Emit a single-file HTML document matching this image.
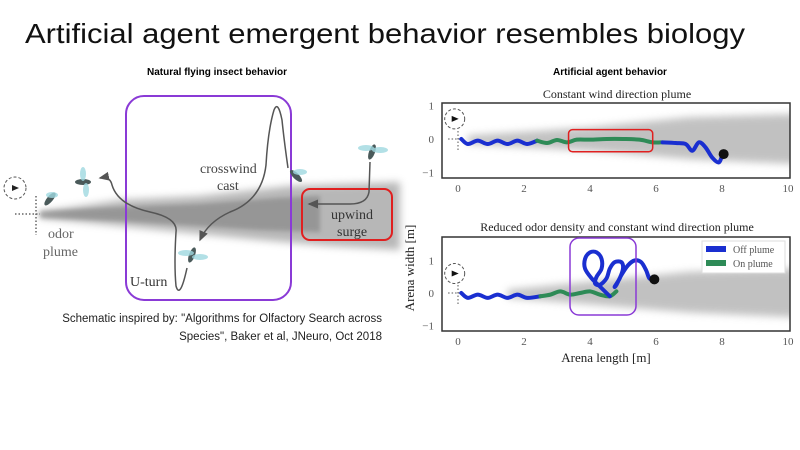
<!DOCTYPE html>
<html><head><meta charset="utf-8"><style>
html,body{margin:0;padding:0;background:#fff;width:800px;height:450px;overflow:hidden}
svg{display:block}
.ser{font-family:"Liberation Serif",serif}
.san{font-family:"Liberation Sans",sans-serif}
</style></head><body>
<svg id="root" width="800" height="450" viewBox="0 0 800 450">
<defs>
<filter id="blur" filterUnits="userSpaceOnUse" x="0" y="0" width="800" height="450"><feGaussianBlur stdDeviation="4"/></filter>
<filter id="blur2" filterUnits="userSpaceOnUse" x="0" y="0" width="800" height="450"><feGaussianBlur stdDeviation="2"/></filter>
<clipPath id="clipTop"><rect x="442" y="103" width="348" height="75"/></clipPath>
<clipPath id="clipBot"><rect x="442" y="237" width="348" height="94"/></clipPath>
<marker id="arr" markerWidth="8" markerHeight="8" refX="6" refY="4" orient="auto"><path d="M0,1 L7,4 L0,7 Z" fill="#555"/></marker>
</defs>
<text class="san" x="25" y="43" font-size="28" textLength="720" lengthAdjust="spacingAndGlyphs" fill="#111">Artificial agent emergent behavior resembles biology</text>

<g>
<text class="san" x="217" y="75" font-size="10" font-weight="bold" text-anchor="middle">Natural flying insect behavior</text>
<path d="M40,212 L120,200 L200,196 L290,186 L400,182 L400,250 L330,246 L260,240 L200,234 L120,226 L40,218 Z" fill="#888" opacity="0.6" filter="url(#blur)"/>
<path d="M40,211 L120,207 L200,204 L280,198 L320,196 L320,232 L260,230 L200,226 L120,221 L40,218 Z" fill="#777" opacity="0.5" filter="url(#blur2)"/>
<rect x="126" y="96" width="165" height="204" rx="18" fill="none" stroke="#8a3ad6" stroke-width="2"/>
<rect x="302" y="189" width="90" height="51" rx="8" fill="none" stroke="#e02020" stroke-width="2"/>
<path d="M370,162 L369,192 Q367,204 350,204 L309,204" fill="none" stroke="#555" stroke-width="1.5" marker-end="url(#arr)"/>
<path d="M288,168 Q284,140 282,120 Q278,100 274,110 Q268,130 266,165 Q262,200 230,212 Q208,222 200,240" fill="none" stroke="#555" stroke-width="1.5" marker-end="url(#arr)"/>
<path d="M187,268 Q180,300 176,286 Q174,265 176,232 Q178,218 150,212 Q118,205 112,185 Q110,176 100,178" fill="none" stroke="#555" stroke-width="1.5" marker-end="url(#arr)"/>
<g fill="#4a5a5a">
<ellipse cx="372" cy="152" rx="3" ry="8" transform="rotate(20 372 152)"/><ellipse cx="366" cy="148" rx="8" ry="3" fill="#9fd8e0" opacity="0.8"/><ellipse cx="380" cy="150" rx="8" ry="3" fill="#9fd8e0" opacity="0.8"/>
<ellipse cx="296" cy="176" rx="3" ry="8" transform="rotate(-45 296 176)"/><ellipse cx="300" cy="172" rx="7" ry="3" fill="#9fd8e0" opacity="0.8"/>
<ellipse cx="192" cy="255" rx="3" ry="8" transform="rotate(20 192 255)"/><ellipse cx="186" cy="253" rx="8" ry="3" fill="#9fd8e0" opacity="0.8"/><ellipse cx="200" cy="257" rx="8" ry="3" fill="#9fd8e0" opacity="0.8"/>
<ellipse cx="83" cy="182" rx="8" ry="3"/><ellipse cx="83" cy="174" rx="3" ry="7" fill="#9fd8e0" opacity="0.8"/><ellipse cx="86" cy="190" rx="3" ry="7" fill="#9fd8e0" opacity="0.8"/>
<ellipse cx="50" cy="199" rx="3" ry="8" transform="rotate(40 50 199)"/><ellipse cx="52" cy="195" rx="6" ry="3" fill="#9fd8e0" opacity="0.8"/>
</g>
<circle cx="15" cy="188" r="11" fill="none" stroke="#555" stroke-dasharray="3,2"/>
<path d="M12,185 L19,188 L12,191 Z" fill="#222"/>
<line x1="36" y1="196" x2="36" y2="235" stroke="#666" stroke-dasharray="1.5,2" stroke-width="1.5"/>
<line x1="15" y1="214" x2="40" y2="214" stroke="#666" stroke-dasharray="1.5,2" stroke-width="1.5"/>
<text class="ser" font-size="14" fill="#444"><tspan x="200" y="173">crosswind</tspan><tspan x="217" y="190">cast</tspan></text>
<text class="ser" font-size="14" fill="#333"><tspan x="331" y="219">upwind</tspan><tspan x="337" y="236">surge</tspan></text>
<text class="ser" font-size="14" fill="#666"><tspan x="48" y="238">odor</tspan><tspan x="43" y="256">plume</tspan></text>
<text class="ser" font-size="14" fill="#333" x="130" y="286">U-turn</text>
<text class="san" font-size="11.5" fill="#222" text-anchor="end"><tspan x="382" y="322">Schematic inspired by: "Algorithms for Olfactory Search across</tspan><tspan x="382" y="340">Species", Baker et al, JNeuro, Oct 2018</tspan></text>
</g>

<text class="san" x="610" y="75" font-size="10" font-weight="bold" text-anchor="middle">Artificial agent behavior</text>
<g id="charts"></g>
</svg>
<script>
// x-axis ticks, y-axis ticks
const xTicks=[0,2,4,6,8,10];
const yTicks=[-1,0,1];
// top panel trajectory (off/on plume segments)
const topOff1=[[0.1,0],[0.3,-0.15],[0.6,-0.05],[0.9,-0.15],[1.2,-0.05],[1.5,-0.15],[1.8,-0.05],[2.1,-0.15],[2.4,-0.05]];
const topOn=[[2.4,-0.05],[2.7,-0.12],[3.0,-0.03],[3.3,-0.1],[3.6,-0.02],[4.0,-0.02],[4.5,0],[5.0,0],[5.5,-0.02],[5.9,-0.1],[6.2,-0.1]];
const topOff2=[[6.2,-0.1],[6.6,-0.12],[6.9,-0.15],[7.1,-0.35],[7.3,-0.1],[7.5,-0.25],[7.7,-0.55],[7.9,-0.7],[8.0,-0.5]];
const topEnd=[8.05,-0.45];
// bottom panel trajectory
const botOff1=[[0.1,0],[0.3,-0.15],[0.6,-0.05],[0.9,-0.15],[1.2,-0.05],[1.5,-0.15],[1.8,-0.05],[2.1,-0.15],[2.5,-0.1]];
const botOn=[[2.5,-0.1],[2.8,-0.05],[3.1,0.05],[3.4,-0.05],[3.7,0],[4.0,0.05],[4.3,-0.05],[4.6,-0.1],[4.8,0.05]];
const botOff2=[[4.6,-0.1],[4.5,0.0],[4.3,0.2],[4.05,0.45],[3.85,0.75],[3.85,1.05],[4.0,1.25],[4.2,1.25],[4.35,1.05],[4.35,0.75],[4.2,0.5],[4.15,0.3],[4.3,0.25],[4.5,0.45],[4.6,0.75],[4.75,0.95],[4.95,0.95],[5.0,0.75],[4.9,0.45],[4.75,0.2],[4.8,0.25],[4.95,0.55],[5.15,0.85],[5.35,1.0],[5.55,0.95],[5.7,0.7],[5.8,0.45],[5.95,0.42]];
const botEnd=[5.95,0.42];
const legendLabels=["Off plume","On plume"];

const NS="http://www.w3.org/2000/svg";
const root=document.getElementById('charts');
function mk(tag,attrs,parent){const e=document.createElementNS(NS,tag);for(const k in attrs)e.setAttribute(k,attrs[k]);(parent||root).appendChild(e);return e;}
function smooth(P){
  let d='M'+P[0][0]+','+P[0][1];
  for(let i=0;i<P.length-1;i++){
    const p0=P[i-1]||P[i],p1=P[i],p2=P[i+1],p3=P[i+2]||p2;
    const c1=[p1[0]+(p2[0]-p0[0])/6,p1[1]+(p2[1]-p0[1])/6];
    const c2=[p2[0]-(p3[0]-p1[0])/6,p2[1]-(p3[1]-p1[1])/6];
    d+=` C${c1[0]},${c1[1]} ${c2[0]},${c2[1]} ${p2[0]},${p2[1]}`;
  }
  return d;
}
function panel(name,top,bottom,y0,yScalePx,title,titleY,traj,end,plumeStart,clip){
  const sx=v=>458+v*33;
  const sy=v=>y0-v*yScalePx;
  const g=mk('g',{});
  
  
  const t=mk('text',{x:617,y:titleY,'font-size':12,'text-anchor':'middle','class':'ser',fill:'#222'},g);t.textContent=title;
  
  
  const pg=mk('g',{'clip-path':clip},g);
  const p=mk('path',{d:`M${sx(plumeStart)},${sy(0.1)} L${sx(4)},${sy(0.35)} L${sx(7)},${sy(0.65)} L${sx(10.3)},${sy(0.75)} L${sx(10.3)},${sy(-0.75)} L${sx(7)},${sy(-0.6)} L${sx(4)},${sy(-0.35)} L${sx(plumeStart)},${sy(-0.15)} Z`,fill:'#999',opacity:0.6,filter:'url(#blur)'},pg);
  
  
  const fr=mk('rect',{x:442,y:top,width:348,height:bottom-top,fill:'none',stroke:'#333','stroke-width':1.5},g);
  
  
  xTicks.forEach(v=>{const tx=mk('text',{x:sx(v),y:bottom+14,'font-size':11,'text-anchor':'middle','class':'ser',fill:'#555'},g);tx.textContent=v;
    
    });
  yTicks.forEach(v=>{const ty=mk('text',{x:434,y:sy(v)+4,'font-size':11,'text-anchor':'end','class':'ser',fill:'#555'},g);ty.textContent=v<0?'\u2212'+(-v):v;
    
    });
  const wc=mk('circle',{cx:sx(-0.1),cy:sy(0.6),r:10,fill:'none',stroke:'#555','stroke-dasharray':'3,2'},g);
  
  
  mk('path',{d:`M${sx(-0.1)-3},${sy(0.6)-3} L${sx(-0.1)+4},${sy(0.6)} L${sx(-0.1)-3},${sy(0.6)+3} Z`,fill:'#111'},g);
  mk('line',{x1:sx(0),y1:sy(0)-8,x2:sx(0),y2:sy(0)+12,stroke:'#555','stroke-dasharray':'1.5,2'},g);
  mk('line',{x1:sx(-0.3),y1:sy(0),x2:sx(0.1),y2:sy(0),stroke:'#555','stroke-dasharray':'1.5,2'},g);
  traj.forEach(s=>{const l=mk('path',{d:smooth(s.pts.map(q=>[sx(q[0]),sy(q[1])])),fill:'none',stroke:s.c,'stroke-width':4,'stroke-linejoin':'round','stroke-linecap':'round'},g);
    
    });
  const d=mk('circle',{cx:sx(end[0]),cy:sy(end[1]),r:5,fill:'#111'},g);
  
  
  return {sx,sy,g};
}
const A=panel('top-panel',103,178,139,33.5,'Constant wind direction plume',98,
 [{pts:topOff1,c:'#1a2fd0',n:'off-plume-line'},{pts:topOn,c:'#2e8b57',n:'on-plume-line'},{pts:topOff2,c:'#1a2fd0',n:'off-plume-line'}],topEnd,0.3,'url(#clipTop)');
const rb=mk('rect',{x:A.sx(3.35),y:A.sy(0.28),width:A.sx(5.9)-A.sx(3.35),height:A.sy(-0.38)-A.sy(0.28),rx:4,fill:'none',stroke:'#e02020','stroke-width':1.5});


const B=panel('bottom-panel',237,331,293,32.5,'Reduced odor density and constant wind direction plume',231,
 [{pts:botOff1,c:'#1a2fd0',n:'off-plume-line'},{pts:botOn,c:'#2e8b57',n:'on-plume-line'},{pts:botOff2,c:'#1a2fd0',n:'off-plume-line'}],botEnd,1.5,'url(#clipBot)');
const pb=mk('rect',{x:570,y:238,width:66,height:77,rx:9,fill:'none',stroke:'#8a3ad6','stroke-width':1.5});


const lg=mk('g',{});


mk('rect',{x:702,y:241,width:83,height:32,fill:'#fff',stroke:'#ddd'},lg);
[['#1a2fd0',0],['#2e8b57',1]].forEach(([c,i])=>{
  const s=mk('rect',{x:706,y:246+i*14,width:20,height:6,fill:c},lg);
  
  
  const t=mk('text',{x:733,y:253+i*14,'font-size':10,'class':'ser',fill:'#555'},lg);t.textContent=legendLabels[i];
  
  
});
const xl=mk('text',{x:606,y:362,'font-size':13,'text-anchor':'middle','class':'ser',fill:'#222'});xl.textContent='Arena length [m]';


const yl=mk('text',{x:0,y:0,'font-size':13,'text-anchor':'middle','class':'ser',fill:'#222',transform:'translate(414,268) rotate(-90)'});yl.textContent='Arena width [m]';


</script>
</body></html>
